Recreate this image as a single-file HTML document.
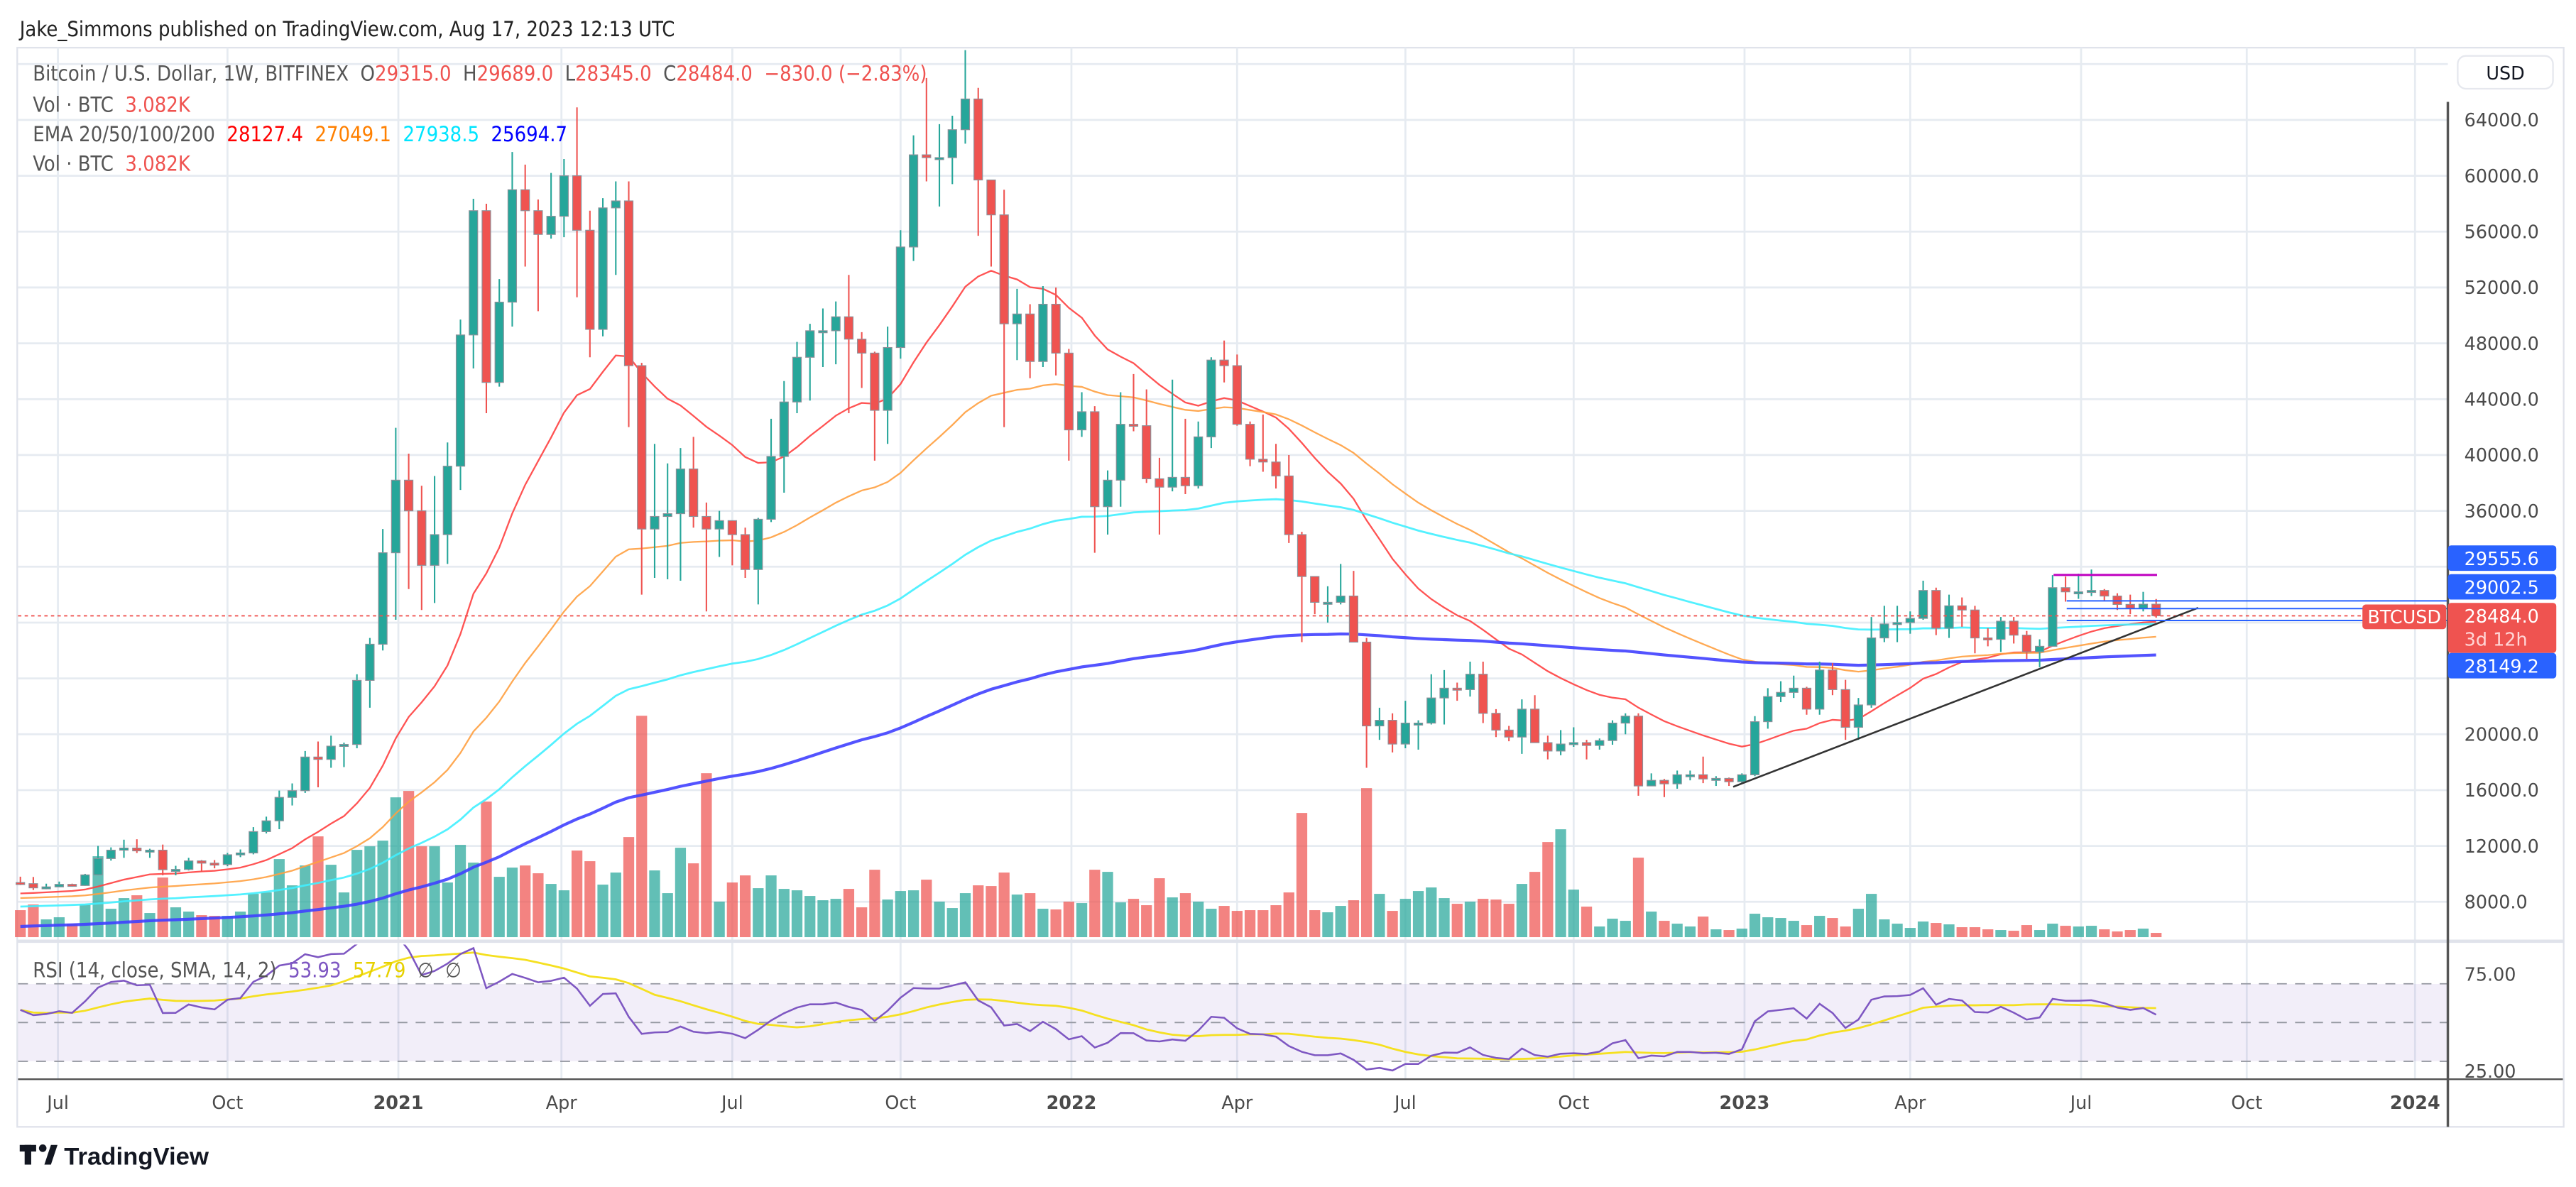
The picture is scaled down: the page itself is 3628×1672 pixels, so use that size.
<!DOCTYPE html>
<html><head><meta charset="utf-8"><style>
html,body{margin:0;padding:0;background:#fff;}
svg{display:block;font-family:"Liberation Sans",sans-serif;}
text{white-space:pre;}
.ax{font-family:"DejaVu Sans",sans-serif;font-size:11px;fill:#4a4a4a;}
.lg{font-family:"DejaVu Sans Condensed","DejaVu Sans",sans-serif;font-size:12.5px;}
</style></head><body>
<svg id="chart" width="3628" height="1672" viewBox="0 0 1568 722.6" xmlns="http://www.w3.org/2000/svg">
<text x="12" y="22" font-size="13.5" fill="#222" class="lg">Jake_Simmons published on TradingView.com, Aug 17, 2023 12:13 UTC</text>
<rect x="10.5" y="29" width="1550" height="657" fill="none" stroke="#e0e3eb" stroke-width="1"/>
<g id="grid"></g>
<rect x="11" y="599" width="1479" height="47" fill="rgba(126,87,194,0.1)"/>
<g id="rsiGuides"></g>
<g id="vol"></g>
<g id="emas"></g>
<g id="candles"></g>
<g id="drawings"></g>
<g id="rsi"></g>
<line x1="11" y1="573" x2="1560" y2="573" stroke="#e0e3eb" stroke-width="2"/>
<line x1="11" y1="657" x2="1560" y2="657" stroke="#555" stroke-width="1"/>
<line x1="1490" y1="62" x2="1490" y2="686" stroke="#555" stroke-width="1.5"/>
<g id="paxis"></g>
<g id="taxis"></g>
<g><rect x="1496" y="34" width="58" height="20" rx="5" fill="#fff" stroke="#e6e8ee"/><text x="1525" y="48.5" text-anchor="middle" class="ax" style="fill:#131722" font-size="11.5">USD</text></g>
<g class="lg">
<text x="20" y="49" fill="#555">Bitcoin / U.S. Dollar, 1W, BITFINEX  O<tspan fill="#ef5350">29315.0</tspan>  H<tspan fill="#ef5350">29689.0</tspan>  L<tspan fill="#ef5350">28345.0</tspan>  C<tspan fill="#ef5350">28484.0</tspan>  <tspan fill="#ef5350">−830.0 (−2.83%)</tspan></text>
<text x="20" y="68" fill="#555">Vol · BTC  <tspan fill="#ef5350">3.082K</tspan></text>
<text x="20" y="86" fill="#555">EMA 20/50/100/200  <tspan fill="#ff0000">28127.4</tspan>  <tspan fill="#ff8000">27049.1</tspan>  <tspan fill="#00e5ff">27938.5</tspan>  <tspan fill="#0000ff">25694.7</tspan></text>
<text x="20" y="104" fill="#555">Vol · BTC  <tspan fill="#ef5350">3.082K</tspan></text>
<text x="20" y="595" fill="#555">RSI (14, close, SMA, 14, 2)  <tspan fill="#7e57c2">53.93</tspan>  <tspan fill="#e6d000">57.79</tspan>  ∅  ∅</text>
</g>
<g>
<rect x="12" y="697" width="10" height="4" fill="#131722"/><rect x="15" y="697" width="4" height="12" fill="#131722"/><circle cx="26" cy="699" r="2.3" fill="#131722"/><path d="M27 709 L31 697 L35 697 L31 709 Z" fill="#131722"/>
<text x="39" y="709" font-size="15" font-weight="bold" fill="#131722">TradingView</text></g>
</svg>
<script>
var opens=[9380,9300,9000,9070,9250,9170,9930,11100,11700,11850,11650,11700,10300,10320,10930,10770,10670,11370,11500,13030,13800,15480,15960,18370,18200,19150,19270,23860,26450,33000,38200,36000,32100,34300,39200,48600,57500,45200,50950,59000,57500,55800,57100,60000,56100,49000,57700,58200,46400,34700,35600,35800,39000,35600,34700,35300,34300,31800,35400,39900,43800,47000,48900,48900,49900,48300,47300,43200,47700,54900,61500,61300,61300,63300,65500,59700,57200,49400,50100,46700,50800,47300,41800,43100,36300,38200,42200,42100,38300,37700,38400,37800,41300,46800,46400,42200,39700,39500,38500,34300,31300,29450,29450,29900,26600,20600,21000,19300,20800,20800,22600,23300,23200,24300,21500,20300,19800,21800,19400,18800,19300,19400,19200,19550,20800,21300,16300,16700,16450,17100,17100,16800,16840,16600,17100,20900,22700,23000,23300,21800,24600,23200,20500,22100,26900,27900,28000,28300,30300,27600,29200,28900,26900,26800,28100,27100,25900,26300,30500,30200,30200,30300,29900,29300,29000,29315];
var highs=[9800,9780,9300,9450,9300,10000,12000,11900,12450,12480,11800,12100,10580,11150,10990,10990,11500,11750,13350,14100,15970,16480,18800,19480,19900,19400,24300,26900,34700,41950,40100,37800,38500,40900,49700,58350,58000,52600,61700,60800,58300,60200,61200,64900,57500,58400,59600,59600,46600,40800,39400,40500,41300,36600,36000,35300,34800,35500,42600,45300,48100,49400,50500,51000,52900,48800,47400,49200,56100,62900,67000,63700,64300,69000,66300,59500,59000,51900,50800,52100,52000,47600,44500,43500,38900,44500,45800,44700,39800,45400,42600,42400,47000,48200,47200,42400,42900,40800,40000,34500,31300,30600,32200,31700,26900,21900,21500,22400,21000,24300,24600,23700,25200,25200,21800,20600,22500,22800,19900,20300,20500,19600,19700,21000,21500,21500,17200,16800,17400,17400,18400,17000,16900,17200,21300,23300,23800,24200,23400,25200,25100,23900,22600,28400,29200,29200,28800,31000,30500,30000,29800,29200,27600,28400,28400,27400,26800,31400,31300,31500,31800,30400,30100,30000,30200,29689];
var lows=[9200,8850,8900,9050,9080,9150,9900,10950,11150,11500,11150,9900,9900,10250,10150,10400,10550,11200,11400,12900,13200,14900,15800,16200,17600,17650,19000,21900,26000,28200,30400,28900,29400,32200,37500,46200,43000,44900,49200,53500,50300,55500,55600,51300,47000,48500,52900,42000,30000,31200,31100,31000,34800,28800,32700,32100,31200,29300,35200,37300,43000,43900,46300,46500,43000,44800,39600,40800,46900,53900,59600,57800,59400,62300,55700,53500,42000,46800,45500,46300,45700,39600,41300,33000,34300,36300,41700,38000,34300,37400,37200,37600,40500,45200,42100,39200,38800,37600,33700,26600,28600,28000,29300,26600,17600,19600,18700,19000,18900,20700,20700,22400,22700,20800,19800,19500,18600,19400,18200,18500,19100,18200,18900,19250,20000,15600,16300,15500,16100,16700,16500,16300,16300,16500,17000,20400,22300,22600,21400,21400,22800,19600,19600,21900,26600,26600,27200,28200,27100,26900,27700,25800,26300,25900,26500,25400,24800,26300,29500,29700,29900,29600,28900,28600,28800,28345];
var closes=[9300,9000,9070,9250,9170,9930,11100,11700,11850,11650,11700,10300,10320,10930,10770,10670,11370,11500,13030,13800,15480,15960,18370,18200,19150,19270,23860,26450,33000,38200,36000,32100,34300,39200,48600,57500,45200,50950,59000,57500,55800,57100,60000,56100,49000,57700,58200,46400,34700,35600,35800,39000,35600,34700,35300,34300,31800,35400,39900,43800,47000,48900,48900,49900,48300,47300,43200,47700,54900,61500,61300,61300,63300,65500,59700,57200,49400,50100,46700,50800,47300,41800,43100,36300,38200,42200,42100,38300,37700,38400,37800,41300,46800,46400,42200,39700,39500,38500,34300,31300,29450,29450,29900,26600,20600,21000,19300,20800,20800,22600,23300,23200,24300,21500,20300,19800,21800,19400,18800,19300,19400,19200,19550,20800,21300,16300,16700,16450,17100,17100,16800,16840,16600,17100,20900,22700,23000,23300,21800,24600,23200,20500,22100,26900,27900,28000,28300,30300,27600,29200,28900,26900,26800,28100,27100,25900,26300,30500,30200,30200,30300,29900,29300,29000,29315,28484];
var volumes=[114,138,75,84,57,138,342,120,165,177,102,252,126,108,93,90,90,108,183,189,330,219,303,426,306,189,369,384,408,591,618,384,384,231,390,315,573,255,294,303,270,225,198,366,321,222,273,423,936,282,186,378,312,693,150,231,261,207,261,204,198,174,156,162,204,126,285,159,195,198,243,150,123,186,219,216,273,180,186,120,117,150,144,285,276,147,162,135,249,168,186,150,120,132,111,114,114,135,189,525,114,105,132,156,630,183,111,162,195,210,165,141,150,162,159,141,225,276,402,456,201,129,45,78,69,336,108,69,57,45,87,33,30,36,99,84,81,69,51,90,81,45,120,183,75,57,39,66,60,54,42,42,33,30,27,51,30,57,48,45,48,33,24,30,36,18];
var emaSeeds=[8600,8270,7660,6240];
var emaPeriods=[20,50,100,200];
var priceTicks=[64000,60000,56000,52000,48000,44000,40000,36000,20000,16000,12000,8000];
var gridPrices=[68000,64000,60000,56000,52000,48000,44000,40000,36000,32000,28000,24000,20000,16000,12000,8000];
var timeLabels=["Jul","Oct","2021","Apr","Jul","Oct","2022","Apr","Jul","Oct","2023","Apr","Jul","Oct","2024"];
var timeLabelWeeks=[2.9,16,29.2,41.8,55,68,81.2,94,107,120,133.2,146,159.2,172,185];
var rsiSeed=[260,200];

var NS="http://www.w3.org/2000/svg";
function mk(tag,attrs,parent){var e=document.createElementNS(NS,tag);for(var k in attrs)e.setAttribute(k,attrs[k]);parent.appendChild(e);return e;}
function X(i){return 12.4+i*7.879;}
function Y(p){return 73+(64000-p)/4000*34;}
function YV(v){return 570.5-v*0.144;}
function YR(r){return 593+(75-r)*1.18;}
var UP="#26a69a",DN="#ef5350";
var grid=document.getElementById('grid');
gridPrices.forEach(function(p){var l=mk('line',{x1:11,x2:1490,y1:Y(p),y2:Y(p),stroke:'#e6ebf1','stroke-width':1.2},grid);

});
timeLabelWeeks.forEach(function(w){var l=mk('line',{x1:X(w),x2:X(w),y1:29,y2:657,stroke:'#e6ebf1','stroke-width':1.2},grid);

});
var rg=document.getElementById('rsiGuides');
[70,50,30].forEach(function(r){var l=mk('line',{x1:11,x2:1490,y1:YR(r),y2:YR(r),stroke:'#9598a1','stroke-width':0.8,'stroke-dasharray':'6 5'},rg);

});
var vol=document.getElementById('vol');
volumes.forEach(function(v,i){var up=closes[i]>=opens[i];var r=mk('rect',{x:X(i)-3.3,y:YV(v),width:6.6,height:570.5-YV(v),fill:up?'rgba(38,166,154,0.72)':'rgba(239,83,80,0.72)'},vol);

});
var eg=document.getElementById('emas');var emaCols=['#ff4040','#ffa040','#40f0ff','#4040ff'];var emaW=[1,1,1.2,1.8];
emaPeriods.forEach(function(n,k){var e=emaSeeds[k],a=2/(n+1),pts=[];for(var i=0;i<closes.length;i++){if(i>0)e=closes[i]*a+e*(1-a);pts.push(X(i).toFixed(1)+','+Y(e).toFixed(1));}
var pl=mk('polyline',{points:pts.join(' '),fill:'none',stroke:emaCols[k],'stroke-width':emaW[k],'stroke-opacity':0.9},eg);

});
var cg=document.getElementById('candles');
closes.forEach(function(c,i){var o=opens[i],up=c>=o,col=up?UP:DN;
var w=mk('line',{x1:X(i),x2:X(i),y1:Y(highs[i]),y2:Y(lows[i]),stroke:col,'stroke-width':0.9},cg);


var t=Y(Math.max(o,c)),b=Y(Math.min(o,c));var r=mk('rect',{x:X(i)-2.6,y:t,width:5.2,height:Math.max(b-t,1.2),fill:col,stroke:'#8d9099','stroke-width':0.5},cg);

});
var dg=document.getElementById('drawings');
var last=closes[closes.length-1];
var pl1=mk('line',{x1:11,x2:1438,y1:Y(last),y2:Y(last),stroke:'#ef5350','stroke-width':0.8,'stroke-dasharray':'2 2'},dg);


var tl=mk('line',{x1:1055,y1:479,x2:1338,y2:370,stroke:'#333','stroke-width':1.1},dg);


var mg=mk('line',{x1:1250,y1:350,x2:1313,y2:350,stroke:'#c000c0','stroke-width':1.3},dg);


[29555.6,29002.5,28149.2].forEach(function(p){var l=mk('line',{x1:1258,x2:1490,y1:Y(p),y2:Y(p),stroke:'#2962ff','stroke-width':0.9},dg);

});
var bl=mk('rect',{x:1438,y:368,width:51,height:15,rx:2,fill:'#ef5350'},dg);


var bt=mk('text',{x:1463.5,y:379.5,'text-anchor':'middle',class:'ax',style:'fill:#fff'},dg);bt.textContent='BTCUSD';


var rp=document.getElementById('rsi');var ag=rsiSeed[0],al=rsiSeed[1],rs=[];
for(var i=0;i<closes.length;i++){if(i>0){var d=closes[i]-closes[i-1];ag=(ag*13+Math.max(d,0))/14;al=(al*13+Math.max(-d,0))/14;}rs.push(100-100/(1+ag/al));}
var sm=rs.map(function(v,i){var s=0,n=0;for(var j=Math.max(0,i-13);j<=i;j++){s+=rs[j];n++;}return s/n;});
var cp=mk('clipPath',{id:'rc'},rp);mk('rect',{x:11,y:575,width:1479,height:82},cp);
var ys=mk('polyline',{points:sm.map(function(v,i){return X(i).toFixed(1)+','+YR(v).toFixed(1);}).join(' '),fill:'none',stroke:'#f5e020','stroke-width':1.2,'clip-path':'url(#rc)'},rp);


var rl=mk('polyline',{points:rs.map(function(v,i){return X(i).toFixed(1)+','+YR(v).toFixed(1);}).join(' '),fill:'none',stroke:'#7e57c2','stroke-width':1.1,'clip-path':'url(#rc)'},rp);


var pa=document.getElementById('paxis');
priceTicks.forEach(function(p){var t=mk('text',{x:1500,y:Y(p)+4,class:'ax'},pa);t.textContent=p.toFixed(1);

});
[[75,'75.00'],[25,'25.00']].forEach(function(a){var t=mk('text',{x:1500,y:YR(a[0])+4,class:'ax'},pa);t.textContent=a[1];

});
var tags=[['29555.6',332,'#2962ff'],['29002.5',349.5,'#2962ff'],['28484.0',367,'#ef5350'],['28149.2',397.5,'#2962ff']];
tags.forEach(function(a){var h=a[0]==='28484.0'?30.5:15.5;var r=mk('rect',{x:1490,y:a[1],width:66,height:h,rx:2,fill:a[2]},pa);


var t=mk('text',{x:1500,y:a[1]+12,class:'ax',style:'fill:#fff'},pa);t.textContent=a[0];

});
var cd=mk('text',{x:1500,y:393,class:'ax',style:'fill:#ffd6d6'},pa);cd.textContent='3d 12h';


var ta=document.getElementById('taxis');
timeLabels.forEach(function(s,k){var bold=/^\d{4}$/.test(s);var t=mk('text',{x:X(timeLabelWeeks[k]),y:675,'text-anchor':'middle',class:'ax','font-weight':bold?'bold':'normal'},ta);t.textContent=s;

});
</script>
</body></html>
